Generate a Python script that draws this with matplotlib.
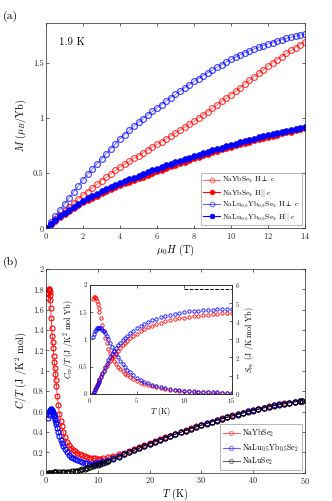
import numpy as np
import matplotlib
matplotlib.use("Agg")
import matplotlib.pyplot as plt
from matplotlib.lines import Line2D

plt.rcParams['font.family'] = 'serif'
plt.rcParams['font.serif'] = ['cmr10', 'DejaVu Serif']
plt.rcParams['mathtext.fontset'] = 'cm'
plt.rcParams['axes.formatter.use_mathtext'] = True
plt.rcParams['axes.unicode_minus'] = False

# ---------------- Panel (a): magnetization at 1.9 K ----------------
field = np.arange(0, 14.0001, 0.25)
m_lu_perp = [0, 0.055, 0.11, 0.165, 0.22, 0.275, 0.33, 0.385, 0.44, 0.488, 0.535, 0.582,
             0.628, 0.674, 0.72, 0.765, 0.81, 0.849, 0.887, 0.924, 0.96, 0.994, 1.027, 1.059,
             1.09, 1.121, 1.152, 1.183, 1.213, 1.243, 1.273, 1.302, 1.33, 1.357, 1.383, 1.409,
             1.434, 1.459, 1.483, 1.507, 1.53, 1.551, 1.571, 1.59, 1.608, 1.625, 1.641, 1.656,
             1.67, 1.683, 1.697, 1.71, 1.721, 1.731, 1.741, 1.751, 1.76]
m_yb_perp = [0, 0.04, 0.08, 0.118, 0.155, 0.19, 0.232, 0.267, 0.30, 0.333, 0.366, 0.398,
             0.43, 0.462, 0.493, 0.524, 0.555, 0.581, 0.607, 0.633, 0.658, 0.684, 0.709, 0.735,
             0.76, 0.786, 0.812, 0.838, 0.864, 0.891, 0.917, 0.943, 0.97, 0.999, 1.028, 1.058,
             1.088, 1.118, 1.149, 1.179, 1.21, 1.242, 1.274, 1.307, 1.34, 1.372, 1.405, 1.437,
             1.47, 1.499, 1.528, 1.556, 1.584, 1.611, 1.638, 1.664, 1.69]
m_lu_par = [0, 0.04, 0.077, 0.11, 0.14, 0.168, 0.196, 0.223, 0.25, 0.272, 0.293, 0.314,
            0.334, 0.354, 0.373, 0.392, 0.41, 0.427, 0.444, 0.46, 0.476, 0.492, 0.508, 0.524,
            0.54, 0.555, 0.57, 0.585, 0.599, 0.613, 0.627, 0.641, 0.655, 0.668, 0.681, 0.693,
            0.706, 0.718, 0.731, 0.743, 0.755, 0.767, 0.778, 0.79, 0.801, 0.812, 0.823, 0.834,
            0.845, 0.855, 0.865, 0.874, 0.884, 0.893, 0.902, 0.911, 0.92]
m_yb_par = [0, 0.036, 0.07, 0.101, 0.13, 0.157, 0.183, 0.209, 0.235, 0.256, 0.276, 0.296,
            0.316, 0.335, 0.354, 0.372, 0.39, 0.406, 0.422, 0.438, 0.454, 0.469, 0.485, 0.5,
            0.515, 0.53, 0.545, 0.56, 0.575, 0.59, 0.605, 0.62, 0.635, 0.648, 0.661, 0.675,
            0.688, 0.701, 0.714, 0.727, 0.74, 0.752, 0.763, 0.774, 0.785, 0.796, 0.807, 0.819,
            0.83, 0.84, 0.849, 0.859, 0.868, 0.877, 0.887, 0.896, 0.905]
labels_a = [r'NaYbSe$_2$ H$\perp$ $c$', r'NaYbSe$_2$ H$||$ $c$',
            r'NaLu$_{0.5}$Yb$_{0.5}$Se$_2$ H$\perp$ $c$', r'NaLu$_{0.5}$Yb$_{0.5}$Se$_2$ H$||$ $c$']

# ---------------- Panel (b): specific heat ----------------
t_yb = [0.4, 0.45, 0.5, 0.55, 0.6, 0.65, 0.7, 0.75, 0.8, 0.9, 1.0, 1.1, 1.2, 1.3, 1.4, 1.5,
        1.6, 1.7, 1.8, 1.9, 2.0, 2.2, 2.4, 2.6, 2.8, 3.0, 3.3, 3.6, 4.0, 4.4, 4.8, 5.2, 5.6,
        6.0, 6.5, 7.0, 7.5, 8.0, 8.5, 9.0, 9.5, 10, 10.5, 11, 12, 13, 14, 15, 16, 17, 18, 19,
        20, 21, 22, 23, 24, 25, 26, 27, 28, 29, 30, 31, 32, 33, 34, 35, 36, 37, 38, 39, 40,
        41, 42, 43, 44, 45, 46, 47, 48, 49, 49.5]
c_yb = [1.72, 1.76, 1.79, 1.80, 1.80, 1.79, 1.77, 1.74, 1.70, 1.62, 1.52, 1.42, 1.34, 1.28,
        1.22, 1.15, 1.09, 1.03, 0.97, 0.91, 0.85, 0.75, 0.66, 0.58, 0.51, 0.46, 0.40, 0.35,
        0.30, 0.27, 0.245, 0.225, 0.21, 0.195, 0.182, 0.171, 0.162, 0.154, 0.148, 0.143, 0.14,
        0.138, 0.139, 0.143, 0.155, 0.168, 0.182, 0.197, 0.215, 0.233, 0.251, 0.27, 0.29, 0.31,
        0.328, 0.346, 0.364, 0.382, 0.40, 0.418, 0.436, 0.454, 0.47, 0.486, 0.502, 0.518, 0.533,
        0.548, 0.562, 0.576, 0.59, 0.603, 0.616, 0.628, 0.64, 0.651, 0.661, 0.671, 0.68, 0.689,
        0.697, 0.704, 0.708]
t_lu05 = [0.4, 0.5, 0.6, 0.7, 0.8, 0.9, 1.0, 1.1, 1.2, 1.3, 1.4, 1.5, 1.6, 1.7, 1.8, 1.9, 2.0,
          2.2, 2.4, 2.6, 2.8, 3.0, 3.3, 3.6, 4.0, 4.4, 4.8, 5.2, 5.6, 6.0, 6.5, 7.0, 7.5, 8.0,
          8.5, 9.0, 9.5, 10, 10.5, 11, 12, 13, 14, 15, 16, 17, 18, 19, 20, 21, 22, 23, 24, 25,
          26, 27, 28, 29, 30, 31, 32, 33, 34, 35, 36, 37, 38, 39, 40, 41, 42, 43, 44, 45, 46,
          47, 48, 49, 49.5]
c_lu05 = [0.54, 0.57, 0.595, 0.61, 0.62, 0.625, 0.625, 0.62, 0.61, 0.6, 0.585, 0.57, 0.555,
          0.535, 0.515, 0.495, 0.475, 0.435, 0.395, 0.36, 0.325, 0.295, 0.26, 0.23, 0.2, 0.177,
          0.158, 0.145, 0.133, 0.123, 0.113, 0.104, 0.097, 0.093, 0.09, 0.089, 0.091, 0.097,
          0.103, 0.11, 0.125, 0.142, 0.161, 0.182, 0.202, 0.222, 0.242, 0.263, 0.284, 0.304,
          0.323, 0.342, 0.36, 0.378, 0.396, 0.414, 0.432, 0.45, 0.467, 0.483, 0.5, 0.516, 0.531,
          0.546, 0.56, 0.574, 0.588, 0.601, 0.614, 0.626, 0.638, 0.649, 0.66, 0.67, 0.679,
          0.688, 0.696, 0.703, 0.707]
t_lu = [0.4, 0.6, 0.8, 1.0, 1.25, 1.5, 1.75, 2.0, 2.5, 3.0, 3.5, 4.0, 4.5, 5.0, 5.5, 6.0, 6.5,
        7.0, 7.5, 8.0, 8.5, 9.0, 9.5, 10, 10.5, 11, 11.5, 12, 13, 14, 15, 16, 17, 18, 19, 20,
        21, 22, 23, 24, 25, 26, 27, 28, 29, 30, 31, 32, 33, 34, 35, 36, 37, 38, 39, 40, 41, 42,
        43, 44, 45, 46, 47, 48, 49, 49.5]
c_lu = [0.001, 0.001, 0.001, 0.001, 0.001, 0.002, 0.002, 0.002, 0.003, 0.004, 0.006, 0.008,
        0.01, 0.012, 0.016, 0.021, 0.027, 0.033, 0.04, 0.047, 0.055, 0.063, 0.071, 0.08, 0.089,
        0.098, 0.107, 0.117, 0.137, 0.158, 0.18, 0.2, 0.22, 0.24, 0.262, 0.283, 0.303, 0.323,
        0.342, 0.36, 0.378, 0.396, 0.414, 0.432, 0.449, 0.465, 0.481, 0.497, 0.512, 0.527,
        0.542, 0.556, 0.57, 0.583, 0.596, 0.609, 0.621, 0.633, 0.644, 0.655, 0.665, 0.675,
        0.684, 0.693, 0.701, 0.705]
labels_b = [r'NaYbSe$_2$', r'NaLu$_{0.5}$Yb$_{0.5}$Se$_2$', r'NaLuSe$_2$']

# ---------------- Inset: magnetic C/T and entropy ----------------
t_in = [0.35, 0.45, 0.55, 0.65, 0.75, 0.85, 0.95, 1.05, 1.2, 1.35, 1.5, 1.65, 1.8, 2.0, 2.2,
        2.4, 2.6, 2.8, 3.0, 3.25, 3.5, 3.75, 4.0, 4.3, 4.6, 5.0, 5.4, 5.8, 6.2, 6.6, 7.0, 7.5,
        8.0, 8.5, 9.0, 9.5, 10.0, 10.5, 11, 11.5, 12, 12.5, 13, 13.5, 14, 14.5, 15]
cm_yb = [1.74, 1.78, 1.78, 1.76, 1.71, 1.65, 1.58, 1.50, 1.40, 1.27, 1.15, 1.03, 0.93, 0.82,
         0.74, 0.67, 0.61, 0.55, 0.50, 0.45, 0.41, 0.37, 0.335, 0.3, 0.27, 0.235, 0.205, 0.18,
         0.16, 0.14, 0.123, 0.105, 0.09, 0.077, 0.066, 0.056, 0.048, 0.042, 0.037, 0.032,
         0.028, 0.024, 0.021, 0.018, 0.015, 0.012, 0.01]
cm_lu05 = [1.05, 1.1, 1.15, 1.18, 1.2, 1.21, 1.215, 1.215, 1.2, 1.18, 1.15, 1.11, 1.07, 1.0,
           0.93, 0.86, 0.79, 0.73, 0.67, 0.6, 0.54, 0.485, 0.44, 0.39, 0.345, 0.295, 0.255,
           0.22, 0.19, 0.165, 0.145, 0.122, 0.103, 0.088, 0.076, 0.066, 0.058, 0.051, 0.045,
           0.04, 0.035, 0.031, 0.027, 0.023, 0.019, 0.016, 0.013]
sm_yb = [0, 0.12, 0.24, 0.36, 0.48, 0.6, 0.72, 0.83, 0.98, 1.12, 1.26, 1.4, 1.52, 1.67, 1.82,
         1.96, 2.1, 2.24, 2.37, 2.52, 2.66, 2.8, 2.92, 3.06, 3.18, 3.32, 3.45, 3.56, 3.66, 3.75,
         3.83, 3.92, 3.99, 4.05, 4.1, 4.15, 4.19, 4.23, 4.27, 4.3, 4.33, 4.36, 4.39, 4.42,
         4.44, 4.46, 4.48]
sm_lu05 = [0, 0.11, 0.22, 0.33, 0.44, 0.55, 0.65, 0.76, 0.92, 1.09, 1.27, 1.45, 1.63, 1.84,
           2.02, 2.2, 2.37, 2.52, 2.66, 2.82, 2.96, 3.09, 3.21, 3.34, 3.46, 3.6, 3.73, 3.85,
           3.95, 4.05, 4.13, 4.22, 4.3, 4.37, 4.42, 4.47, 4.51, 4.54, 4.57, 4.59, 4.61, 4.63,
           4.64, 4.66, 4.67, 4.68, 4.69]
rln2_t = [10, 15]
rln2 = 5.76

# ---------------- Figure ----------------
fig = plt.figure(figsize=(3.32, 5.01), dpi=100)
frame_c = '#262626'
tick_fs = 6.0
lab_fs = 7.4


def style(ax, fs=tick_fs, right=True, pad=1.8):
    ax.tick_params(direction='in', which='both', top=True, right=right, labelsize=fs,
                   length=2.5, width=0.5, colors=frame_c, pad=pad)
    for s in ax.spines.values():
        s.set_linewidth(0.5)
        s.set_edgecolor(frame_c)


ax1 = fig.add_axes([0.1386, 0.5443, 0.780, 0.4098])
ax1.plot(field, m_yb_perp, '-o', color='r', alpha=0.7, ms=4.2, mew=0.9, mfc='none', lw=0.5,
         label=labels_a[0])
ax1.plot(field, m_yb_par, '-o', color='r', ms=4.2, mew=0.5, mfc='r', lw=0.5, label=labels_a[1])
ax1.plot(field, m_lu_perp, '-o', color='b', alpha=0.7, ms=4.2, mew=0.9, mfc='none', lw=0.5,
         label=labels_a[2])
ax1.plot(field, m_lu_par, '-o', color='b', ms=4.2, mew=0.5, mfc='b', lw=0.5, label=labels_a[3])
ax1.set_xlim(0, 14)
ax1.set_ylim(0, 1.86)
ax1.set_xticks(np.arange(0, 15, 2))
ax1.set_yticks([0, 0.5, 1, 1.5])
ax1.set_yticklabels(['0', '0.5', '1', '1.5'])
style(ax1)
ax1.set_xlabel(r'$\mu_0H$ (T)', fontsize=lab_fs, labelpad=1)
ax1.set_ylabel(r'$M$ ($\mu_B$/Yb)', fontsize=lab_fs, labelpad=3)
ax1.text(0.05, 0.93, '1.9 K', transform=ax1.transAxes, fontsize=7.8, va='top', ha='left')
handles_a = [Line2D([], [], color='r', marker='o', mfc='none', ms=3.4, mew=0.7, lw=0.8, alpha=0.6),
             Line2D([], [], color='r', marker='o', mfc='r', ms=3.4, mew=0.5, lw=0.8),
             Line2D([], [], color='b', marker='o', mfc='none', ms=3.4, mew=0.7, lw=0.8, alpha=0.6),
             Line2D([], [], color='b', marker='o', mfc='b', ms=3.4, mew=0.5, lw=0.8)]
leg1 = ax1.legend(handles_a, labels_a, loc='lower right', fontsize=5.4, handlelength=2.2,
                  handletextpad=0.3, borderpad=0.3, labelspacing=0.15, fancybox=False,
                  framealpha=1, edgecolor='#999999', borderaxespad=0.4)
leg1.get_frame().set_linewidth(0.5)
fig.text(0.01, 0.978, '(a)', fontsize=8.5, va='top', ha='left')

ax2 = fig.add_axes([0.1386, 0.0565, 0.780, 0.4066])
ax2.plot(t_yb, c_yb, '-o', color='r', ms=3.6, mew=0.8, mfc='none', lw=0.5, label=labels_b[0])
ax2.plot(t_lu05, c_lu05, '-o', color='b', ms=3.6, mew=0.8, mfc='none', lw=0.5,
         label=labels_b[1])
ax2.plot(t_lu, c_lu, '-o', color='k', ms=3.6, mew=0.8, mfc='none', lw=0.5, label=labels_b[2])
ax2.set_xlim(0, 50)
ax2.set_ylim(0, 2)
ax2.set_xticks(np.arange(0, 51, 10))
ax2.set_yticks(np.arange(0, 2.01, 0.2))
ax2.set_yticklabels(['0', '0.2', '0.4', '0.6', '0.8', '1', '1.2', '1.4', '1.6', '1.8', '2'])
style(ax2)
ax2.set_xlabel(r'$T$ (K)', fontsize=lab_fs, labelpad=0)
ax2.set_ylabel(r'$C/T$ (J /K$^2$ mol)', fontsize=lab_fs, labelpad=3)
handles_b = [Line2D([], [], color=c, marker='o', mfc='none', ms=3.0, mew=0.6, lw=0.8,
                    alpha=0.6) for c in ('r', 'b', 'k')]
leg2 = ax2.legend(handles_b, labels_b, loc='lower right', fontsize=5.6, handlelength=2.2,
                  handletextpad=0.3, borderpad=0.35, labelspacing=0.25, fancybox=False,
                  framealpha=1, edgecolor='#999999', borderaxespad=0.4)
leg2.get_frame().set_linewidth(0.5)
fig.text(0.01, 0.488, '(b)', fontsize=8.5, va='top', ha='left')

ax3 = fig.add_axes([0.2696, 0.2142, 0.4277, 0.2170])
ax3.plot(t_in, cm_yb, 'o', color='r', ms=2.4, mew=0.6, mfc='none')
ax3.plot(t_in, cm_lu05, 'o', color='b', ms=2.4, mew=0.6, mfc='none')
ax3.set_xlim(0, 15)
ax3.set_ylim(0, 2)
ax3.set_xticks([0, 5, 10, 15])
ax3.set_yticks([0, 0.5, 1, 1.5, 2])
ax3.set_yticklabels(['0', '0.5', '1', '1.5', '2'])
style(ax3, fs=5.0, right=False, pad=1.6)
ax3.set_xlabel(r'$T$ (K)', fontsize=5.8, labelpad=0)
ax3.set_ylabel(r'$C_m/T$ (J /K$^2$ mol Yb)', fontsize=5.8, labelpad=2)
ax4 = ax3.twinx()
ax4.plot(t_in, sm_yb, 'o', color='r', ms=2.4, mew=0.6, mfc='none')
ax4.plot(t_in, sm_lu05, 'o', color='b', ms=2.4, mew=0.6, mfc='none')
ax4.plot(rln2_t, [rln2, rln2], '--', color='k', lw=0.7)
ax4.set_ylim(0, 6)
ax4.set_yticks(np.arange(0, 7, 1))
ax4.tick_params(direction='in', labelsize=5.0, length=2.5, width=0.5, colors=frame_c, pad=2.6)
for s in ax4.spines.values():
    s.set_linewidth(0.5)
    s.set_edgecolor(frame_c)
ax4.set_ylabel(r'$S_m$ (J /K mol Yb)', fontsize=5.8, labelpad=2)

fig.savefig('out.png', dpi=100)
